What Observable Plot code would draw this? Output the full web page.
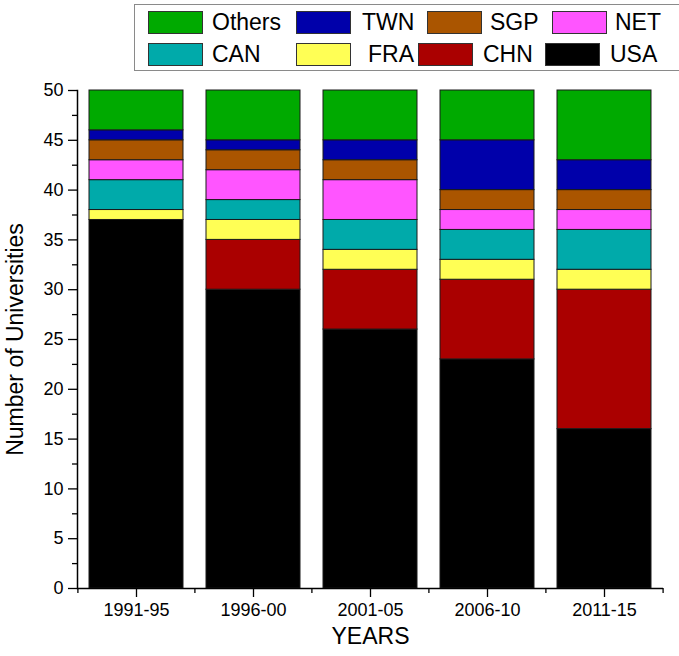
<!DOCTYPE html>
<html>
<head>
<meta charset="utf-8">
<script src="https://cdn.jsdelivr.net/npm/d3@7"></script>
<script src="https://cdn.jsdelivr.net/npm/@observablehq/plot@0.6"></script>
<style>
  html, body { margin: 0; padding: 0; background: #fff; }
  body { width: 679px; height: 656px; overflow: hidden; font-family: "Liberation Sans", Arial, sans-serif; color: #000; }
  #legend { position: relative; width: 679px; height: 75px; }
  #legend .box { position: absolute; left: 134px; top: 4px; width: 560px; height: 67px; border: 1.5px solid #8a8a8a; box-sizing: border-box; }
  #legend .sw { position: absolute; width: 55px; height: 23px; border: 1px solid #333; box-sizing: border-box; }
  #legend .lb { position: absolute; font-size: 23px; line-height: 23px; }
  #chart svg { display: block; }
</style>
</head>
<body>
<div id="legend"><div class="box"></div></div>
<div id="chart"></div>
<script>
// ---- data ----
const categories = ["1991-95", "1996-00", "2001-05", "2006-10", "2011-15"];
const countries = ["USA", "CHN", "FRA", "CAN", "NET", "SGP", "TWN", "Others"];
const colors = ["#000000", "#AA0000", "#FFFF55", "#00AAAA", "#FF55FF", "#AA5500", "#0000AA", "#00AA00"];
const USA    = [37, 30, 26, 23, 16];
const CHN    = [0, 5, 6, 8, 14];
const FRA    = [1, 2, 2, 2, 2];
const CAN    = [3, 2, 3, 3, 4];
const NET    = [2, 3, 4, 2, 2];
const SGP    = [2, 2, 2, 2, 2];
const TWN    = [1, 1, 2, 5, 3];
const Others = [4, 5, 5, 5, 7];
const yTicks = [0, 5, 10, 15, 20, 25, 30, 35, 40, 45, 50];
const yMinorTicks = [2.5, 7.5, 12.5, 17.5, 22.5, 27.5, 32.5, 37.5, 42.5, 47.5];

const seriesValues = {USA, CHN, FRA, CAN, NET, SGP, TWN, Others};
const rows = [];
countries.forEach(c => categories.forEach((y, i) => rows.push({year: y, country: c, value: seriesValues[c][i]})));

// ---- legend (layout separate from data) ----
const legendOrder = ["Others", "TWN", "SGP", "NET", "CAN", "FRA", "CHN", "USA"];
const legendLayout = [
  {sx: 148, tx: 212, y: 11}, {sx: 296, tx: 362, y: 11}, {sx: 427, tx: 490, y: 11}, {sx: 552, tx: 615, y: 11},
  {sx: 148, tx: 212, y: 43}, {sx: 296, tx: 368, y: 43}, {sx: 418, tx: 483, y: 43}, {sx: 545, tx: 610, y: 43}
];
const legend = document.getElementById("legend");
legendOrder.forEach((name, i) => {
  const L = legendLayout[i];
  const sw = document.createElement("div");
  sw.className = "sw";
  sw.style.left = L.sx + "px"; sw.style.top = L.y + "px";
  sw.style.background = colors[countries.indexOf(name)];
  legend.appendChild(sw);
  const lb = document.createElement("div");
  lb.className = "lb";
  lb.style.left = L.tx + "px"; lb.style.top = L.y + "px";
  lb.textContent = name;
  legend.appendChild(lb);
});

// ---- chart ----
const width = 679, height = 581;
const ml = 77, mr = 16, mt = 15, mb = 68;
const step = (width - ml - mr) / 5;

const chart = Plot.plot({
  width, height,
  marginLeft: ml, marginRight: mr, marginTop: mt, marginBottom: mb,
  style: {fontFamily: "'Liberation Sans', Arial, sans-serif", color: "#000", background: "#fff"},
  x: {domain: categories, paddingInner: 0.2, paddingOuter: 0.1},
  y: {domain: [0, 50]},
  color: {domain: countries, range: colors},
  marks: [
    Plot.barY(rows, {x: "year", y: "value", fill: "country", stroke: "#1a1a1a", strokeWidth: 1, order: countries}),
    Plot.axisY({ticks: yTicks, tickSize: 9, tickPadding: 5, fontSize: 18, strokeWidth: 1.3,
      label: "Number of Universities", labelAnchor: "center", labelArrow: "none", labelOffset: 71}),
    Plot.axisY({ticks: yMinorTicks, tickSize: 5, text: null, strokeWidth: 1.3, label: null}),
    Plot.axisX({tickSize: 9, tickPadding: 6, fontSize: 18, strokeWidth: 1.3,
      label: "YEARS", labelAnchor: "center", labelArrow: "none", labelOffset: 55}),
    Plot.axisX({tickSize: 5, text: null, dx: -step / 2, strokeWidth: 1.3, label: null}),
    Plot.axisX([categories[categories.length - 1]], {tickSize: 5, text: null, dx: step / 2, strokeWidth: 1.3, label: null}),
    Plot.ruleY([0], {stroke: "#000", strokeWidth: 1.5}),
    Plot.frame({anchor: "left", stroke: "#000", strokeWidth: 1.5})
  ]
});
document.getElementById("chart").appendChild(chart);
chart.querySelectorAll("g[aria-label='y-axis label'] text, g[aria-label='x-axis label'] text").forEach(t => t.style.fontSize = "23px");
</script>
</body>
</html>
